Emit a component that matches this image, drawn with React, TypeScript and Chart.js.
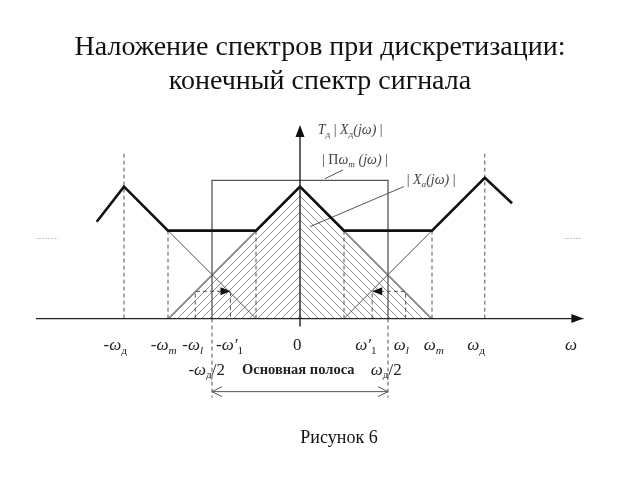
import React, { useEffect, useRef } from 'react';
import { Chart, registerables } from 'chart.js';

Chart.register(...registerables);

// ---------- texts ----------
const titleLines = ['Наложение спектров при дискретизации:', 'конечный спектр сигнала'];
const captionText = 'Рисунок 6';
const bandText = 'Основная полоса';

// ---------- data (ω in units of ωд/2, amplitude in the same units) ----------
// sampled spectrum Tд|Xд(jω)| (thick polyline)
const sampledW = [-2.31, -2.0, -1.5, -0.5, 0, 0.5, 1.5, 2.1, 2.41];
const sampledA = [1.1, 1.5, 1.0, 1.0, 1.5, 1.0, 1.0, 1.6, 1.31];
// base spectrum |Xa(jω)|
const baseW = [-1.5, 0, 1.5];
const baseA = [0, 1.5, 0];
// inner edges of the shifted copies
const leftCopyW = [-1.5, -0.5];
const leftCopyA = [1.0, 0];
const rightCopyW = [0.5, 1.5];
const rightCopyA = [0, 1.0];
// ideal filter |Πωm(jω)|
const filterW = [-1, -1, 1, 1];
const filterA = [0, 1.57, 1.57, 0];
// dashed guide lines
const guideW = [-2.0, 2.1, -1.5, -0.5, 0.5, 1.5];
const guideTop = [1.9, 1.9, 1.0, 1.0, 1.0, 1.0];
// aliasing boxes: [ωl, ω'1]
const leftBoxW = [-1.19, -0.79];
const rightBoxW = [0.82, 1.2];
const boxLevel = 0.31;
// main band
const bandW = [-1, 1];
const bandDepth = -0.9;
const bandArrowLevel = -0.83;
// axes extents
const axisW = [-3.0, 3.22];
const axisA = [-0.09, 2.2];
// faint marks at the margins
const leftMarkW = [-3.0, -2.75];
const rightMarkW = [3.0, 3.2];
const markLevel = 0.91;

// tick labels (position, parts)
type Part = { t: string; sub?: boolean; up?: boolean; bold?: boolean };
const tickPos = [-2.1, -1.55, -1.22, -0.8, -0.03, 0.75, 1.15, 1.52, 2.0, 3.08];
const tickLabels: Part[][] = [
  [{ t: '-ω' }, { t: 'д', sub: true, up: true }],
  [{ t: '-ω' }, { t: 'm', sub: true }],
  [{ t: '-ω' }, { t: 'l', sub: true }],
  [{ t: '-ω′' }, { t: '1', sub: true, up: true }],
  [{ t: '0', up: true }],
  [{ t: 'ω′' }, { t: '1', sub: true, up: true }],
  [{ t: 'ω' }, { t: 'l', sub: true }],
  [{ t: 'ω' }, { t: 'm', sub: true }],
  [{ t: 'ω' }, { t: 'д', sub: true, up: true }],
  [{ t: 'ω' }],
];
const tickRow = -0.3;
const halfPos = [-1.06, 0.98];
const halfLabels: Part[][] = [
  [{ t: '-ω' }, { t: 'д', sub: true, up: true }, { t: '/2', up: true }],
  [{ t: 'ω' }, { t: 'д', sub: true, up: true }, { t: '/2', up: true }],
];
const halfRow = -0.58;
const bandTextPos = -0.02;

// curve labels
const sampledLabelPos = { x: 0.57, y: 2.15 };
const filterLabelPos = { x: 0.625, y: 1.81 };
const baseLabelPos = { x: 1.49, y: 1.58 };
const filterLeaderW = [0.284, 0.489];
const filterLeaderA = [1.59, 1.69];
const baseLeaderW = [0.114, 1.18];
const baseLeaderA = [1.045, 1.5];

const pts = (xs: number[], ys: number[]) => xs.map((x, i) => ({ x, y: ys[i] }));

function hatch(dir: number): CanvasPattern | string {
  const c = document.createElement('canvas');
  c.width = 8;
  c.height = 8;
  const g = c.getContext('2d');
  if (!g) return '#999';
  g.strokeStyle = '#7a7a7a';
  g.lineWidth = 0.85;
  g.beginPath();
  if (dir > 0) {
    g.moveTo(-2, 10); g.lineTo(10, -2);
    g.moveTo(-2, 2); g.lineTo(2, -2);
    g.moveTo(6, 10); g.lineTo(10, 6);
  } else {
    g.moveTo(-2, -2); g.lineTo(10, 10);
    g.moveTo(-2, 6); g.lineTo(2, 10);
    g.moveTo(6, -2); g.lineTo(10, 2);
  }
  g.stroke();
  return g.createPattern(c, 'repeat') || '#999';
}

const SERIF = '"Liberation Serif", "Times New Roman", serif';

function drawRich(ctx: CanvasRenderingContext2D, parts: Part[], cx: number, cy: number, size: number, color: string) {
  const fontOf = (p: Part) => {
    const s = p.sub ? size * 0.66 : size;
    return `${p.up ? '' : 'italic '}${p.bold ? 'bold ' : ''}${s}px ${SERIF}`;
  };
  let total = 0;
  const widths = parts.map((p) => {
    ctx.font = fontOf(p);
    const w = ctx.measureText(p.t).width;
    total += w;
    return w;
  });
  let x = cx - total / 2;
  ctx.fillStyle = color;
  ctx.textAlign = 'left';
  ctx.textBaseline = 'alphabetic';
  const base = cy + size * 0.3;
  parts.forEach((p, i) => {
    ctx.font = fontOf(p);
    ctx.fillText(p.t, x, p.sub ? base + size * 0.22 : base);
    x += widths[i];
  });
}

function arrowHead(ctx: CanvasRenderingContext2D, tx: number, ty: number, dx: number, dy: number, len: number, half: number, filled: boolean, color: string) {
  const bx = tx - dx * len;
  const by = ty - dy * len;
  const nx = -dy;
  const ny = dx;
  ctx.beginPath();
  ctx.moveTo(bx + nx * half, by + ny * half);
  ctx.lineTo(tx, ty);
  ctx.lineTo(bx - nx * half, by - ny * half);
  if (filled) {
    ctx.closePath();
    ctx.fillStyle = color;
    ctx.fill();
  } else {
    ctx.strokeStyle = color;
    ctx.lineWidth = 1;
    ctx.stroke();
  }
}

const decorPlugin = {
  id: 'decor',
  afterDraw(chart: any) {
    const ctx: CanvasRenderingContext2D = chart.ctx;
    const xs = chart.scales.x;
    const ys = chart.scales.y;
    const X = (v: number) => xs.getPixelForValue(v);
    const Y = (v: number) => ys.getPixelForValue(v);
    ctx.save();
    // title
    ctx.fillStyle = '#111';
    ctx.textAlign = 'center';
    ctx.textBaseline = 'alphabetic';
    ctx.font = `28px ${SERIF}`;
    ctx.fillText(titleLines[0], 320, 55);
    ctx.fillText(titleLines[1], 320, 89);
    // caption
    ctx.font = `18px ${SERIF}`;
    ctx.fillText(captionText, 339, 443);

    // arrowheads
    arrowHead(ctx, X(axisW[1]), Y(0), 1, 0, 12, 4.5, true, '#111');
    arrowHead(ctx, X(0), Y(axisA[1]), 0, -1, 12, 4.5, true, '#111');
    arrowHead(ctx, X(leftBoxW[1]), Y(boxLevel), 1, 0, 10, 4, true, '#111');
    arrowHead(ctx, X(rightBoxW[0]), Y(boxLevel), -1, 0, 10, 4, true, '#111');
    arrowHead(ctx, X(bandW[0]), Y(bandArrowLevel), -1, 0, 10, 5, false, '#555');
    arrowHead(ctx, X(bandW[1]), Y(bandArrowLevel), 1, 0, 10, 5, false, '#555');

    // tick labels
    tickLabels.forEach((parts, i) => drawRich(ctx, parts, X(tickPos[i]), Y(tickRow), 17, '#222'));
    halfLabels.forEach((parts, i) => drawRich(ctx, parts, X(halfPos[i]), Y(halfRow), 17, '#222'));
    drawRich(ctx, [{ t: bandText, up: true, bold: true }], X(bandTextPos), Y(halfRow), 14.5, '#222');

    // curve labels
    drawRich(
      ctx,
      [{ t: 'T' }, { t: 'д', sub: true, up: true }, { t: ' | ', up: true }, { t: 'X' }, { t: 'д', sub: true, up: true }, { t: '(jω)' }, { t: ' |', up: true }],
      X(sampledLabelPos.x), Y(sampledLabelPos.y), 14, '#444'
    );
    drawRich(
      ctx,
      [{ t: '| Π', up: true }, { t: 'ω' }, { t: 'm', sub: true }, { t: ' (jω)' }, { t: ' |', up: true }],
      X(filterLabelPos.x), Y(filterLabelPos.y), 14, '#444'
    );
    drawRich(
      ctx,
      [{ t: '| ', up: true }, { t: 'X' }, { t: 'a', sub: true }, { t: '(jω)' }, { t: ' |', up: true }],
      X(baseLabelPos.x), Y(baseLabelPos.y), 14, '#444'
    );
    ctx.restore();
  },
};

export default function App() {
  const ref = useRef<HTMLCanvasElement>(null);
  useEffect(() => {
    const canvas = ref.current;
    if (!canvas) return;
    const slash = hatch(1);
    const back = hatch(-1);

    const seg = (list: { x: number; y: number | null }[][]) => {
      const out: { x: number; y: number | null }[] = [];
      list.forEach((s, i) => {
        if (i > 0) out.push({ x: s[0].x, y: null });
        s.forEach((p) => out.push(p));
      });
      return out;
    };

    const guideSegs = guideW.map((w, i) => [{ x: w, y: 0 }, { x: w, y: guideTop[i] }]);
    const boxSegs = [leftBoxW, rightBoxW].map((b) => [
      { x: b[0], y: 0 }, { x: b[0], y: boxLevel }, { x: b[1], y: boxLevel }, { x: b[1], y: 0 },
    ]);
    const bandSegs = bandW.map((w) => [{ x: w, y: 0 }, { x: w, y: bandDepth }]);

    const thin = { pointRadius: 0, tension: 0, fill: false, clip: false as any };

    const chart = new Chart(canvas, {
      type: 'line',
      data: {
        datasets: [
          { ...thin, data: pts(sampledW, sampledA), borderColor: '#111', borderWidth: 2.6, order: 1 },
          { ...thin, data: pts(baseW, baseA), borderColor: '#444', borderWidth: 1, order: 3 },
          { ...thin, data: seg([pts(leftCopyW, leftCopyA), pts(rightCopyW, rightCopyA)]), borderColor: '#555', borderWidth: 1, order: 3 },
          { ...thin, data: pts(filterW, filterA), borderColor: '#555', borderWidth: 1.3, order: 2 },
          {
            ...thin,
            data: [{ x: baseW[0], y: baseA[0] }, { x: baseW[1], y: baseA[1] }],
            borderColor: 'rgba(0,0,0,0)', borderWidth: 0, fill: 'origin', backgroundColor: slash as any, order: 9,
          },
          {
            ...thin,
            data: [{ x: baseW[1], y: baseA[1] }, { x: baseW[2], y: baseA[2] }],
            borderColor: 'rgba(0,0,0,0)', borderWidth: 0, fill: 'origin', backgroundColor: back as any, order: 9,
          },
          { ...thin, data: seg([...guideSegs, ...boxSegs, ...bandSegs]), borderColor: '#555', borderWidth: 1, borderDash: [4, 3], order: 5 },
          { ...thin, data: seg([pts(axisW, [0, 0]), [{ x: 0, y: axisA[0] }, { x: 0, y: axisA[1] - 0.05 }]]), borderColor: '#222', borderWidth: 1.4, order: 0 },
          { ...thin, data: seg([pts(filterLeaderW, filterLeaderA), pts(baseLeaderW, baseLeaderA)]), borderColor: '#555', borderWidth: 1, order: 4 },
          { ...thin, data: pts(bandW, [bandArrowLevel, bandArrowLevel]), borderColor: '#555', borderWidth: 1, order: 4 },
          { ...thin, data: seg([pts(leftMarkW, [markLevel, markLevel]), pts(rightMarkW, [markLevel, markLevel])]), borderColor: '#c8c8c8', borderWidth: 1, borderDash: [2, 1], order: 6 },
        ],
      },
      options: {
        animation: false,
        responsive: false,
        devicePixelRatio: 1,
        events: [],
        layout: { padding: { left: 36, right: 54, top: 125, bottom: 47 } },
        plugins: { legend: { display: false }, tooltip: { enabled: false }, title: { display: false } },
        scales: {
          x: { type: 'linear', min: -3.0, max: 3.25, display: false },
          y: { type: 'linear', min: -1.3, max: 2.2, display: false },
        },
      },
      plugins: [decorPlugin],
    });
    return () => chart.destroy();
  }, []);

  return (
    <div style={{ position: 'absolute', left: 0, top: 0, width: 640, height: 480, background: '#fff' }}>
      <canvas ref={ref} width={640} height={480} style={{ display: 'block' }} />
    </div>
  );
}
